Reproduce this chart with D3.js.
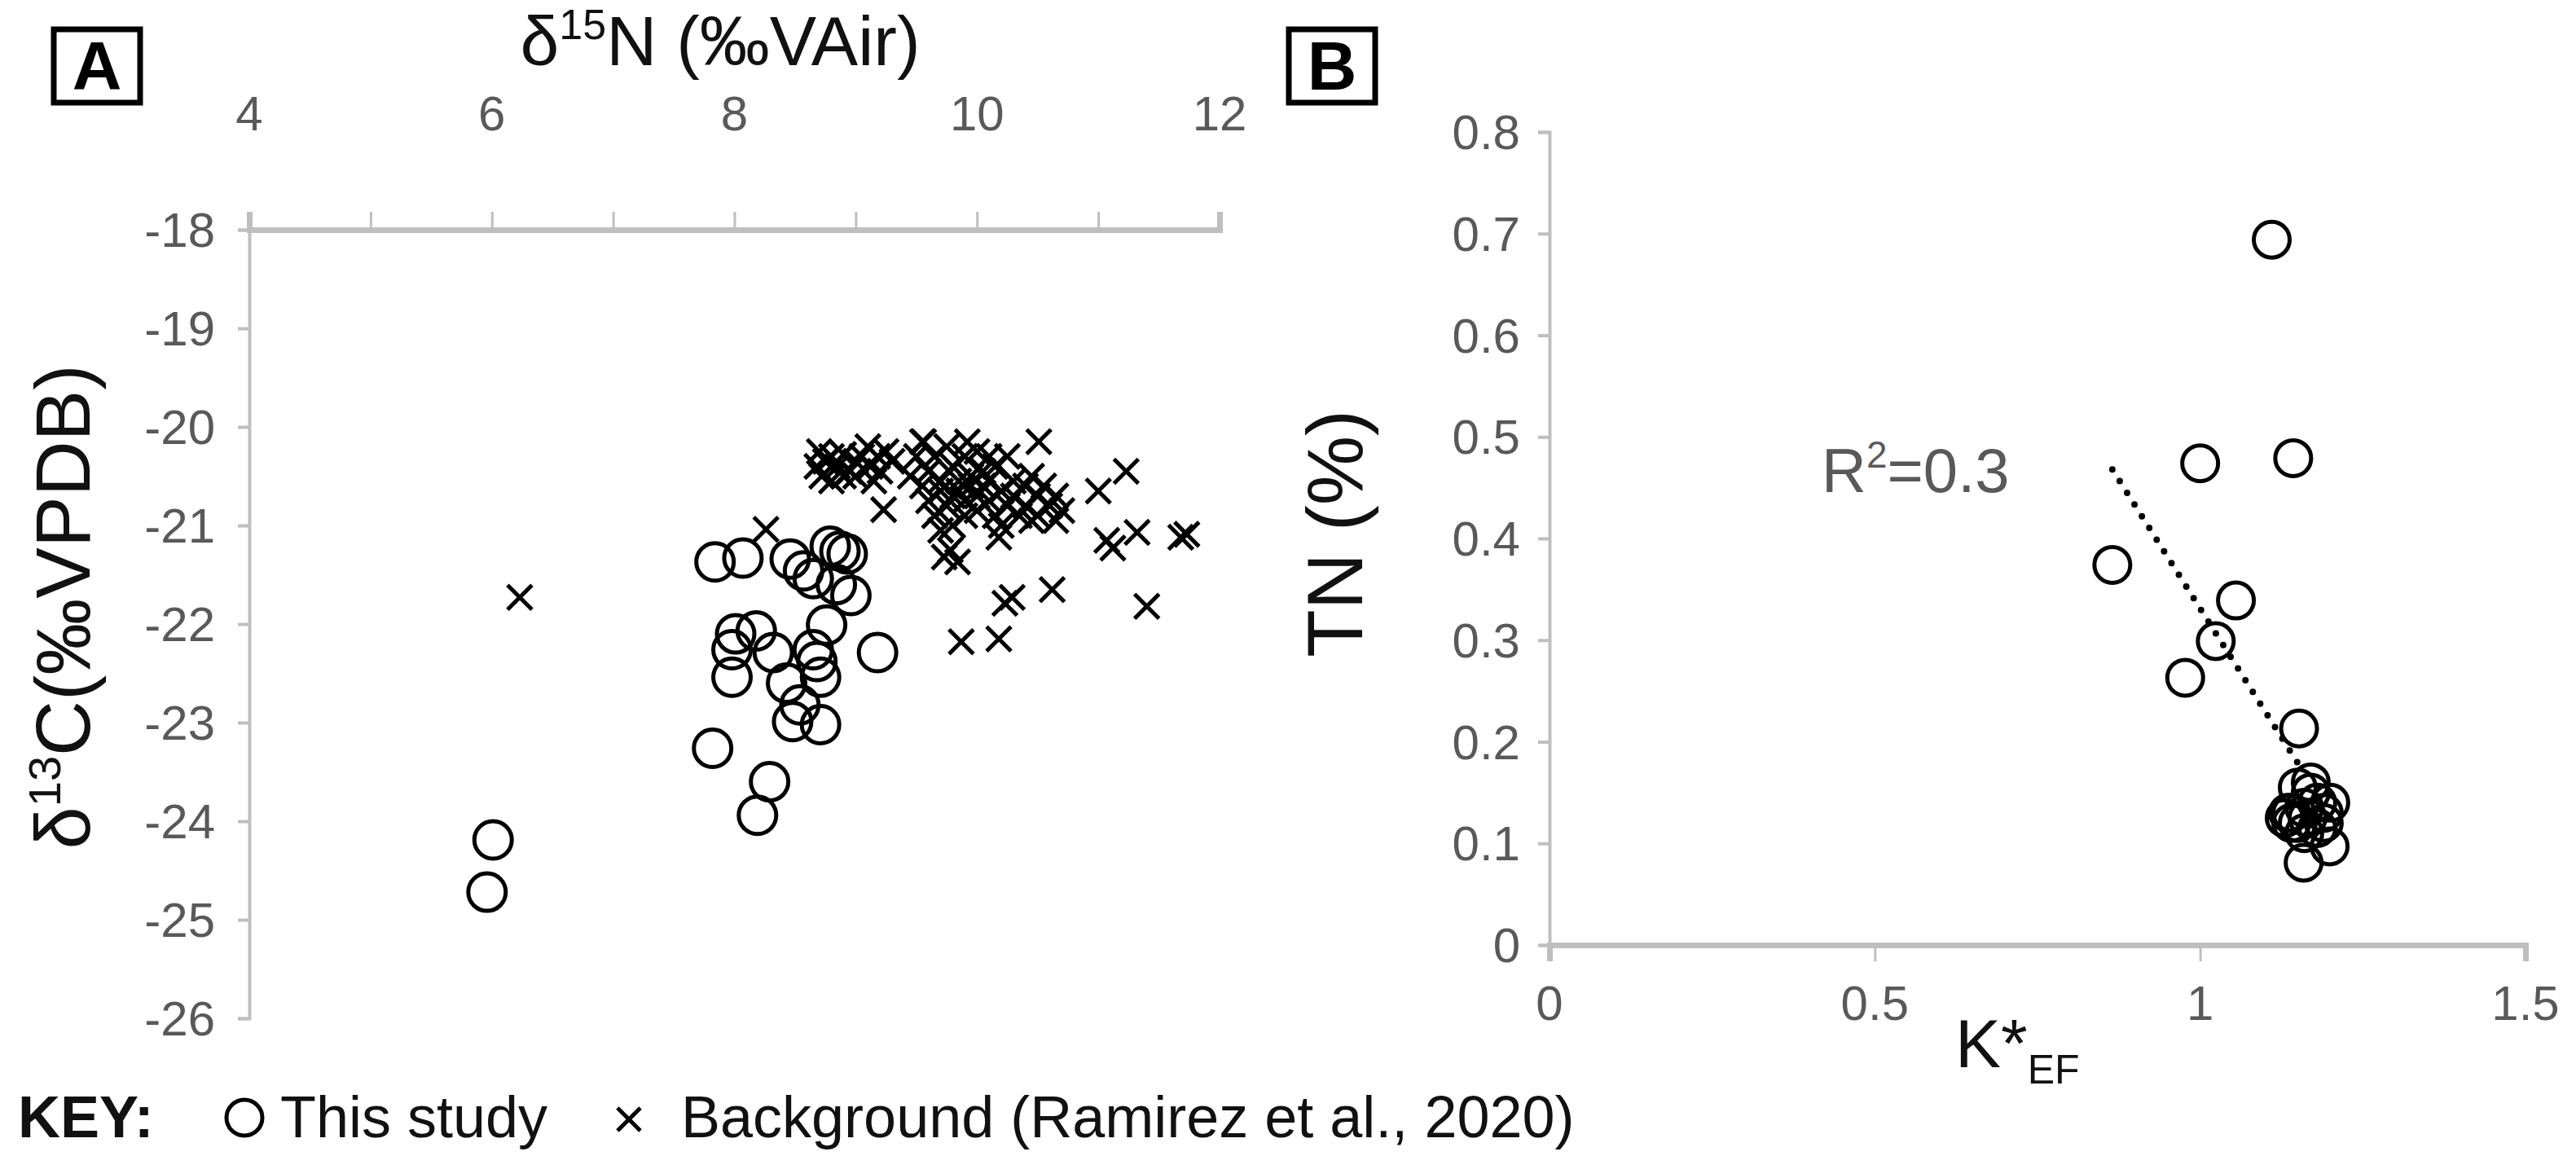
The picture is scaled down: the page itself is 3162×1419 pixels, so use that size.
<!DOCTYPE html>
<html><head><meta charset="utf-8">
<script src="https://cdn.jsdelivr.net/npm/d3@7"></script>
<style>body{margin:0;background:#fff}svg{display:block}text{font-family:"Liberation Sans",Arial,sans-serif}</style>
</head><body><svg id="c" width="3162" height="1419"></svg>
<script>
// Panel A: this study (δ15N, δ13C)
const studyA = [[5.96,-24.72],[6.01,-24.19],[7.82,-23.26],[8.19,-23.94],[8.29,-23.60],[7.84,-21.37],[8.07,-21.33],[8.46,-21.34],[8.57,-21.46],[8.65,-21.54],[8.79,-21.21],[8.87,-21.26],[8.93,-21.29],[8.96,-21.71],[8.76,-22.01],[8.01,-22.10],[8.18,-22.07],[7.98,-22.26],[7.98,-22.54],[8.32,-22.29],[8.43,-22.60],[8.65,-22.26],[8.68,-22.38],[8.71,-22.54],[8.54,-22.82],[8.48,-22.99],[8.71,-23.02],[9.18,-22.29],[8.84,-21.6]];
// Panel A: background (Ramirez et al., 2020)
const backgroundA = [[6.23,-21.73],[8.26,-21.04],[9.23,-20.84],
[8.7,-20.25],[8.75,-20.35],[8.8,-20.3],[8.72,-20.5],[8.85,-20.4],[8.9,-20.28],[8.95,-20.45],[9.0,-20.35],[9.05,-20.3],[9.1,-20.2],[9.12,-20.4],[9.18,-20.3],[9.2,-20.45],[9.25,-20.25],[8.8,-20.55],[8.9,-20.5],[9.0,-20.5],[9.3,-20.35],[8.68,-20.4],[9.15,-20.55],
[9.45,-20.5],[9.5,-20.3],[9.55,-20.15],[9.55,-20.6],[9.6,-20.45],[9.6,-20.75],[9.65,-20.3],[9.65,-20.9],[9.7,-20.55],[9.7,-20.65],[9.75,-20.2],[9.75,-20.8],[9.8,-20.4],[9.8,-20.7],[9.8,-21.0],[9.85,-20.55],[9.85,-20.65],[9.9,-20.3],[9.9,-20.75],[9.9,-20.9],[9.95,-20.5],[9.95,-20.6],[10.0,-20.25],[10.0,-20.7],[10.0,-20.85],[10.05,-20.45],[10.05,-20.6],[10.1,-20.55],[10.1,-20.75],[10.15,-20.4],[10.15,-20.9],[10.2,-20.65],[10.25,-20.3],[10.25,-20.8],[10.3,-20.55],[10.3,-20.7],[10.35,-20.9],[10.4,-20.6],[10.4,-20.8],[10.45,-20.5],[10.5,-20.7],[10.5,-20.9],[10.55,-20.6],[10.51,-20.15],[10.6,-20.8],[10.65,-20.7],[10.7,-20.85],[10.65,-20.95],[10.45,-20.95],[10.2,-21.0],[9.7,-21.05],[10.1,-20.3],[9.92,-20.15],[9.56,-20.15],
[9.73,-21.32],[9.84,-21.37],[9.78,-21.25],[10.18,-21.12],[11.0,-20.65],[11.23,-20.45],[11.07,-21.15],[11.12,-21.23],[11.32,-21.07],[11.68,-21.12],[11.73,-21.09],[11.40,-21.82],[10.62,-21.65],[10.23,-21.79],[10.29,-21.73],[9.87,-22.18],[10.18,-22.15]];
const xTicksA = [4,6,8,10,12];
const yTicksA = [-18,-19,-20,-21,-22,-23,-24,-25,-26];
// Panel B: K*EF vs TN (%)
const studyB = [[1.110,0.694],[1.0,0.474],[1.143,0.479],[0.865,0.374],[1.055,0.339],[1.024,0.299],[0.977,0.263],[1.152,0.213],[1.159,0.081],[1.199,0.097],
[1.13,0.125],[1.14,0.13],[1.15,0.12],[1.16,0.135],[1.17,0.15],[1.18,0.14],[1.19,0.13],[1.18,0.115],[1.16,0.11],[1.15,0.155],[1.17,0.16],[1.2,0.14],[1.14,0.12],[1.19,0.12],[1.135,0.13],[1.165,0.125]];
const trendB = [[0.865,0.468],[1.151,0.178]];
const xTicksB = [0,0.5,1,1.5];
const yTicksB = [0,0.1,0.2,0.3,0.4,0.5,0.6,0.7,0.8];

const svg = d3.select("#c");
const AX="#bfbfbf", LBL="#595959";

// ---- Panel A
const xA = d3.scaleLinear().domain([4,12]).range([306,1497]);
const yA = d3.scaleLinear().domain([-18,-26]).range([282,1250]);
const gxA = svg.append("g").attr("transform",`translate(0,${yA(-18)})`)
  .call(d3.axisTop(xA).tickValues(d3.range(4,13,1)).tickSize(22).tickFormat(""));
gxA.select(".domain").attr("stroke",AX).attr("stroke-width",7);
gxA.selectAll(".tick line").attr("stroke",AX).attr("stroke-width",3);
svg.append("g").selectAll("text").data(xTicksA).join("text")
  .attr("x",d=>xA(d)).attr("y",160).attr("text-anchor","middle")
  .attr("font-size",60).attr("fill",LBL).text(d=>d);
const gyA = svg.append("g").attr("transform",`translate(${xA(4)},0)`)
  .call(d3.axisLeft(yA).tickValues(yTicksA).tickSize(14).tickFormat(""));
gyA.select(".domain").attr("stroke",AX).attr("stroke-width",4);
gyA.selectAll(".tick line").attr("stroke",AX).attr("stroke-width",4);
svg.append("g").selectAll("text").data(yTicksA).join("text")
  .attr("x",264).attr("y",d=>yA(d)+21).attr("text-anchor","end")
  .attr("font-size",60).attr("fill",LBL).text(d=>d);
const tA = svg.append("text").attr("x",884).attr("y",80).attr("text-anchor","middle").attr("font-size",86).attr("fill","#111");
tA.append("tspan").text("δ");tA.append("tspan").attr("font-size",52).attr("dy",-32).text("15");
tA.append("tspan").attr("dy",32).text("N (‰VAir)");
const tyA = svg.append("text").attr("transform","translate(110,745) rotate(-90)").attr("text-anchor","middle").attr("font-size",94).attr("fill","#111");
tyA.append("tspan").text("δ");tyA.append("tspan").attr("font-size",56).attr("dy",-36).text("13");
tyA.append("tspan").attr("dy",36).text("C(‰VPDB)");

svg.append("g").selectAll("circle").data(studyA).join("circle")
  .attr("cx",d=>xA(d[0])).attr("cy",d=>yA(d[1])).attr("r",23)
  .attr("fill","none").attr("stroke","#000").attr("stroke-width",5);
const cross = s=>`M${-s},${-s}L${s},${s}M${-s},${s}L${s},${-s}`;
svg.append("g").selectAll("path").data(backgroundA).join("path")
  .attr("transform",d=>`translate(${xA(d[0])},${yA(d[1])})`)
  .attr("d",cross(15)).attr("stroke","#000").attr("stroke-width",5).attr("fill","none");

// ---- Panel B
const xB = d3.scaleLinear().domain([0,1.5]).range([1902,3100]);
const yB = d3.scaleLinear().domain([0,0.8]).range([1160,162]);
const gxB = svg.append("g").attr("transform",`translate(0,${yB(0)})`)
  .call(d3.axisBottom(xB).tickValues(xTicksB).tickSize(20).tickFormat(""));
gxB.select(".domain").attr("stroke",AX).attr("stroke-width",7);
gxB.selectAll(".tick line").attr("stroke",AX).attr("stroke-width",3);
svg.append("g").selectAll("text").data(xTicksB).join("text")
  .attr("x",d=>xB(d)).attr("y",1252).attr("text-anchor","middle")
  .attr("font-size",60).attr("fill",LBL).text(d=>d);
const gyB = svg.append("g").attr("transform",`translate(${xB(0)},0)`)
  .call(d3.axisLeft(yB).tickValues(yTicksB).tickSize(14).tickFormat(""));
gyB.select(".domain").attr("stroke",AX).attr("stroke-width",4);
gyB.selectAll(".tick line").attr("stroke",AX).attr("stroke-width",4);
svg.append("g").selectAll("text").data(yTicksB).join("text")
  .attr("x",1866).attr("y",d=>yB(d)+21).attr("text-anchor","end")
  .attr("font-size",60).attr("fill",LBL).text(d=>d);
svg.append("text").attr("transform","translate(1672,655) rotate(-90)").attr("text-anchor","middle")
  .attr("font-size",96).attr("fill","#111").text("TN (%)");
const tB = svg.append("text").attr("x",2400).attr("y",1310).attr("font-size",84).attr("fill","#111");
tB.append("tspan").text("K*");tB.append("tspan").attr("font-size",50).attr("dy",20).text("EF");

svg.append("path").datum(trendB).attr("d",d3.line().x(d=>xB(d[0])).y(d=>yB(d[1])))
  .attr("stroke","#000").attr("stroke-width",8).attr("stroke-linecap","round")
  .attr("stroke-dasharray","0 17").attr("fill","none");
svg.append("g").selectAll("circle").data(studyB).join("circle")
  .attr("cx",d=>xB(d[0])).attr("cy",d=>yB(d[1])).attr("r",22)
  .attr("fill","none").attr("stroke","#000").attr("stroke-width",5);
const r2 = svg.append("text").attr("x",2236).attr("y",604).attr("font-size",76).attr("fill",LBL).attr("font-family","'Open Sans',sans-serif");
r2.append("tspan").text("R");r2.append("tspan").attr("font-size",46).attr("dy",-30).text("2");
r2.append("tspan").attr("dy",30).text("=0.3");

// Panel labels
[["A",66],["B",1582]].forEach(([t,x])=>{
  svg.append("rect").attr("x",x).attr("y",36).attr("width",106).attr("height",90)
    .attr("fill","none").attr("stroke","#000").attr("stroke-width",7);
  svg.append("text").attr("x",x+53).attr("y",110).attr("text-anchor","middle")
    .attr("font-size",84).attr("font-weight","bold").attr("fill","#000").text(t);
});

// Key
svg.append("text").attr("x",22).attr("y",1396).attr("font-size",72).attr("font-weight","bold").attr("fill","#111").text("KEY:");
svg.append("circle").attr("cx",300).attr("cy",1372).attr("r",22).attr("fill","none").attr("stroke","#000").attr("stroke-width",5);
svg.append("text").attr("x",344).attr("y",1396).attr("font-size",72).attr("fill","#111").text("This study");
svg.append("path").attr("transform","translate(772,1374)").attr("d",cross(14)).attr("stroke","#000").attr("stroke-width",5);
svg.append("text").attr("x",836).attr("y",1396).attr("font-size",72).attr("fill","#111").text("Background (Ramirez et al., 2020)");
</script></body></html>
